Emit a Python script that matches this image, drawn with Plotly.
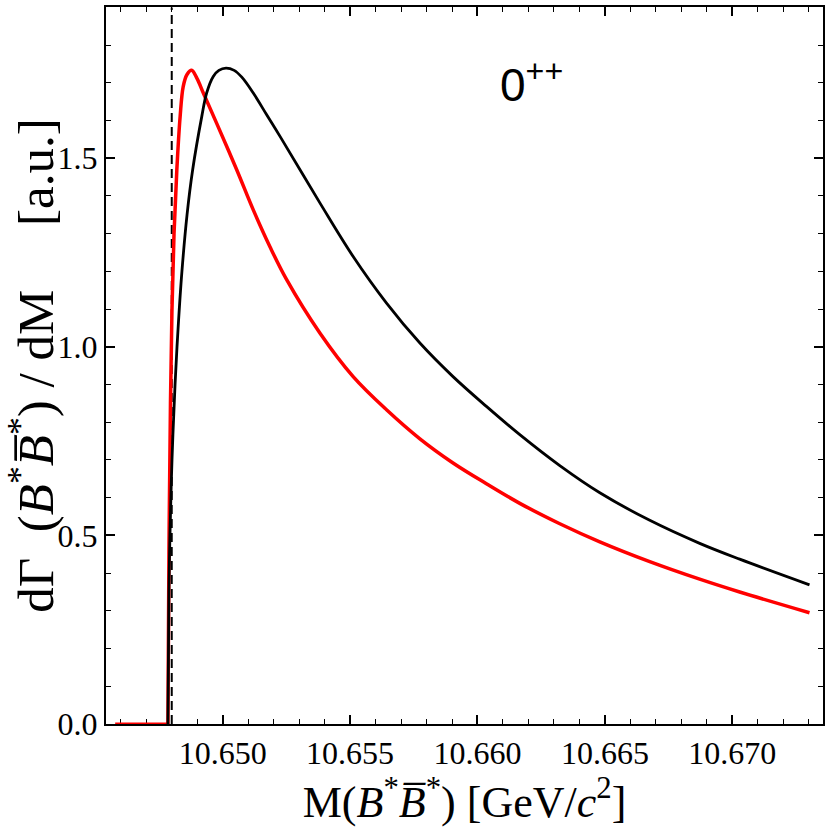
import plotly.graph_objects as go

# Threshold (dashed line)
threshold = 10.6480

# Black curve
black_m = [10.64785, 10.64789, 10.64793, 10.64801, 10.64813, 10.64825, 10.64840,
           10.64860, 10.64882, 10.64918, 10.64937, 10.64963, 10.64985, 10.65013,
           10.65045, 10.65075, 10.65120, 10.65172, 10.65225, 10.65382, 10.65512,
           10.65643, 10.65774, 10.65904, 10.66035, 10.66166, 10.66323, 10.66480,
           10.66676, 10.66872, 10.67029, 10.67303]
black_v = [0.0, 0.35, 0.50, 0.70, 0.90, 1.05, 1.20,
           1.35, 1.469, 1.611, 1.673, 1.717, 1.733, 1.739,
           1.733, 1.715, 1.673, 1.616, 1.558, 1.381, 1.2395,
           1.116, 1.010, 0.921, 0.842, 0.767, 0.685, 0.613,
           0.540, 0.479, 0.437, 0.369]

# Red curve
red_zero_m = [10.64578, 10.64785]
red_zero_v = [0.0, 0.0]
red_m = [10.64785, 10.64789, 10.64795, 10.64801, 10.64809, 10.64820,
         10.64833, 10.64845, 10.64860, 10.64878, 10.64899, 10.64924, 10.64976,
         10.65055, 10.65120, 10.65185, 10.65251, 10.65382, 10.65512, 10.65643,
         10.65774, 10.65904, 10.66035, 10.66166, 10.66323, 10.66480, 10.66676,
         10.66872, 10.67029, 10.67303]
red_v = [0.0, 0.45, 0.85, 1.10, 1.30, 1.469,
         1.611, 1.690, 1.722, 1.733, 1.712, 1.673, 1.593,
         1.4695, 1.363, 1.266, 1.178, 1.036, 0.921, 0.833,
         0.756, 0.692, 0.637, 0.585, 0.531, 0.483, 0.4305,
         0.384, 0.350, 0.295]

x_ticks = [10.650, 10.655, 10.660, 10.665, 10.670]
y_ticks = [0.0, 0.5, 1.0, 1.5]

fig = go.Figure()
fig.add_trace(go.Scatter(x=[threshold, threshold], y=[0, 1.9], mode="lines",
                         line=dict(color="black", width=2, dash="9px,5px"),
                         showlegend=False, hoverinfo="skip"))
fig.add_trace(go.Scatter(x=red_zero_m, y=red_zero_v, mode="lines",
                         line=dict(color="#ff0000", width=3),
                         showlegend=False))
fig.add_trace(go.Scatter(x=red_m, y=red_v, mode="lines",
                         line=dict(color="#ff0000", width=3.5, shape="spline", smoothing=1.0),
                         showlegend=False))
fig.add_trace(go.Scatter(x=black_m, y=black_v, mode="lines",
                         line=dict(color="black", width=2.8, shape="spline", smoothing=1.0),
                         showlegend=False))

serif = "Liberation Serif, Times New Roman, serif"
tickfont = dict(family=serif, size=32, color="black")
sp = "\u00a0"

fig.update_xaxes(range=[10.64542, 10.67356], tickvals=x_ticks,
                 ticktext=[f"{v:.3f}" for v in x_ticks],
                 ticks="inside", ticklen=9, tickwidth=1.5, tickcolor="black",
                 minor=dict(dtick=0.001, tick0=10.650, ticks="inside", ticklen=5,
                            tickwidth=1.2, tickcolor="black"),
                 showline=True, linewidth=2, linecolor="black", mirror="allticks",
                 layer="below traces",
                 showgrid=False, zeroline=False, tickfont=tickfont,
                 title=dict(text="M(<i>B</i><sup>*</sup><i>B\u0305</i><sup>*</sup>) [GeV/<i>c</i><sup>2</sup>]"
                                 + sp * 2,
                            font=dict(family=serif, size=44, color="black"), standoff=2))
fig.update_yaxes(range=[0, 1.901], tickvals=y_ticks,
                 ticktext=[f"{v:.1f}" for v in y_ticks],
                 ticks="inside", ticklen=9, tickwidth=1.5, tickcolor="black",
                 minor=dict(dtick=0.1, tick0=0, ticks="inside", ticklen=5,
                            tickwidth=1.2, tickcolor="black"),
                 showline=True, linewidth=2, linecolor="black", mirror="allticks",
                 layer="below traces",
                 showgrid=False, zeroline=False, tickfont=tickfont,
                 title=dict(text="d\u0393" + sp * 2 + "(<i>B</i><sup>*</sup><i>B\u0305</i><sup>*</sup>) / dM"
                                 + sp * 5 + "[a.u.]",
                            font=dict(family=serif, size=51, color="black"), standoff=0))

fig.add_annotation(x=10.66080, y=1.703, xref="x", yref="y", showarrow=False,
                   xanchor="left", yanchor="middle",
                   text="0<sup>++</sup>",
                   font=dict(family="Liberation Sans, Arial, sans-serif", size=46, color="black"))

fig.update_layout(width=834, height=828, plot_bgcolor="white", paper_bgcolor="white",
                  margin=dict(l=106, r=11, t=7, b=104, autoexpand=False))

fig.write_html("out.html")
